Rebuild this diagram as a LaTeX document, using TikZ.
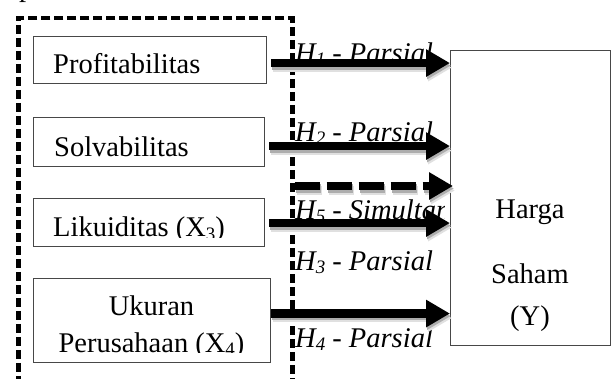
\documentclass[tikz,border=0pt]{standalone}
\usepackage{fontspec}
\setmainfont{Liberation Serif}
\usetikzlibrary{arrows.meta}
% lowered, smaller index digit in the running font shape
\newcommand{\lowsub}[1]{\raisebox{-0.13em}{\fontsize{19}{19}\selectfont #1}}

\begin{document}
\begin{tikzpicture}[x=1pt,y=-1pt,
  varbox/.style={draw=black!72, line width=1.1pt, rectangle, inner sep=0pt},
  txt/.style={inner sep=0pt, font=\fontsize{28.5}{34}\selectfont},
  hyp/.style={inner sep=0pt, font=\fontsize{28.5}{34}\selectfont\itshape},
  groupline/.style={draw=black, line width=4.5pt, dash pattern=on 9pt off 4pt, inner sep=0pt, rectangle},
  bigarrow/.style={line width=8.5pt, -{Triangle[length=24pt,width=26pt]}},
  shadowfar/.style={bigarrow, draw=black!12, transform canvas={shift={(2,4.5)}}},
  shadownear/.style={bigarrow, draw=black!32, transform canvas={shift={(1,2.5)}}},
  dashline/.style={dash pattern=on 25pt off 7pt}
]
\useasboundingbox (0,0) rectangle (611,378);
\fill[white] (0,0) rectangle (611,378);

% caption letter running off the top edge
\node[txt, anchor=base west] (cap) at (19,-3.5) {p};

% dashed frame around the independent variables (open below the page edge)
\node[groupline, anchor=north west, minimum width=274pt, minimum height=420pt] (grp) at (16,15.5) {};

% independent variable boxes
\node[varbox, anchor=north west, minimum width=233pt, minimum height=47pt] (prof) at (33,36) {};
\node[varbox, anchor=north west, minimum width=231pt, minimum height=49pt] (solv) at (33,117) {};
\node[varbox, anchor=north west, minimum width=231pt, minimum height=48pt] (likd) at (33,198) {};
\node[varbox, anchor=north west, minimum width=237pt, minimum height=84pt] (ukur) at (33,278) {};
% dependent variable box
\node[varbox, anchor=north west, minimum width=160pt, minimum height=295pt] (harga) at (450,50) {};

% box texts
\node[txt, anchor=base west] (proft) at (53,73) {Profitabilitas};
\node[txt, anchor=base west] (solvt) at (54,156) {Solvabilitas};
\begin{scope}
  \clip (34,199) rectangle (263,237);
  \node[txt, anchor=base west] (likdt) at (53,236.5) {Likuiditas (X\lowsub{3})};
\end{scope}
\node[txt, anchor=base] (ukurt) at (151.5,315) {Ukuran};
\begin{scope}
  \clip (34,279) rectangle (269,352);
  \node[txt, anchor=base] (ukurt2) at (151.5,352) {Perusahaan (X\lowsub{4})};
\end{scope}
\node[txt, anchor=base] (hrg1) at (530,218) {Harga};
\node[txt, anchor=base] (hrg2) at (530,283) {Saham};
\node[txt, anchor=base] (hrg3) at (530,325) {(Y)};

% hypothesis labels
\node[hyp, anchor=base west] (h1) at (295,62) {H\lowsub{1} - Parsial};
\node[hyp, anchor=base west] (h2) at (295,141) {H\lowsub{2} - Parsial};
\begin{scope}
  \clip (292,190) rectangle (444,235);
  \node[hyp, anchor=base west] (h5) at (295,219) {H\lowsub{5} - Simultan};
\end{scope}
\node[hyp, anchor=base west] (h3) at (295,270) {H\lowsub{3} - Parsial};
\node[hyp, anchor=base west] (h4) at (295,347) {H\lowsub{4} - Parsial};

% arrow start points
\path (prof.east) ++(4,3) coordinate (s1);
\path (solv.east) ++(4,4) coordinate (s2);
\path (likd.east) ++(4,0.5) coordinate (s3);
\path (ukur.east) ++(0,-7) coordinate (s4);
\path (grp.north east) ++(0,170.5) coordinate (s5);

% soft shadows
\foreach \s in {s1,s2,s3,s4}{
  \draw[shadowfar] (\s) -- (\s -| harga.west);
  \draw[shadownear] (\s) -- (\s -| harga.west);
}
\draw[shadowfar, dashline] (s5) -- ([xshift=3pt]s5 -| harga.west);
\draw[shadownear, dashline] (s5) -- ([xshift=3pt]s5 -| harga.west);

% partial effects
\foreach \s in {s1,s2,s3,s4}{
  \draw[bigarrow] (\s) -- (\s -| harga.west);
}
% simultaneous effect
\draw[bigarrow, dashline] (s5) -- ([xshift=3pt]s5 -| harga.west);
\end{tikzpicture}
\end{document}
